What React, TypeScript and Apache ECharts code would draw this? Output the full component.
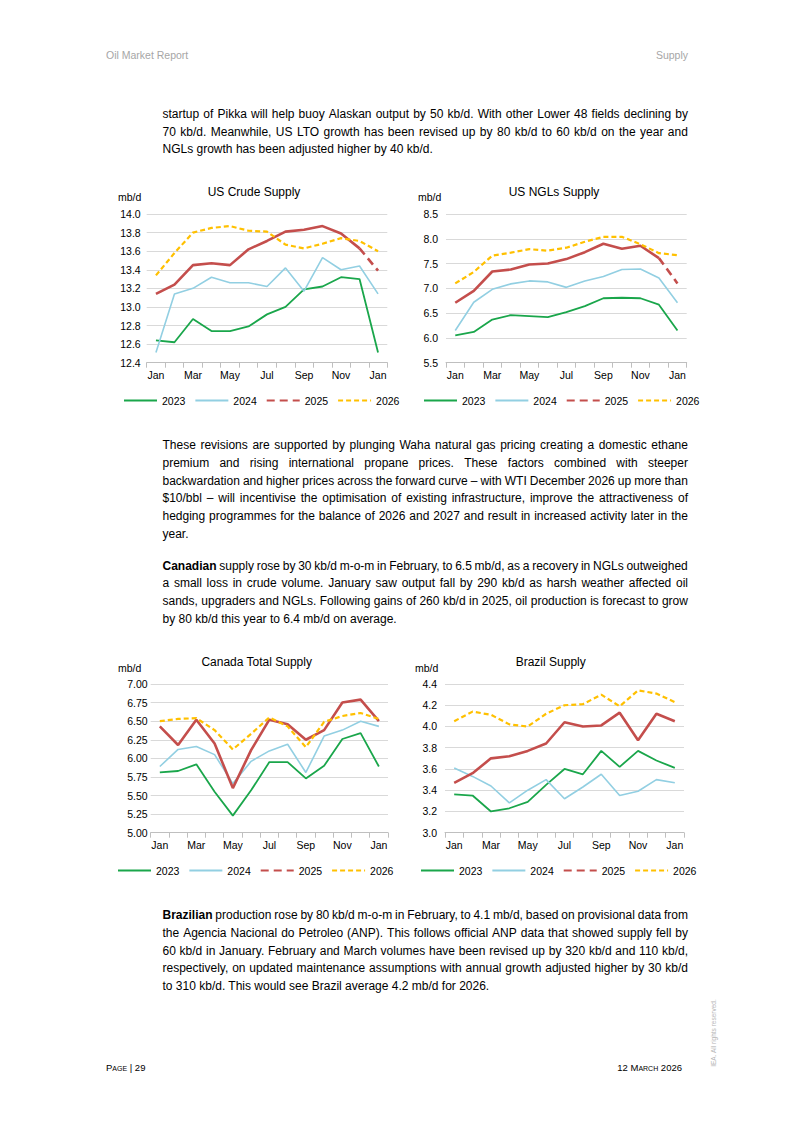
import React, { useEffect, useRef } from "react";
import * as echarts from "echarts";

// ---------------- DATA ----------------
const months = ["Jan", "Feb", "Mar", "Apr", "May", "Jun", "Jul", "Aug", "Sep", "Oct", "Nov", "Dec", "Jan"];
const seriesNames = ["2023", "2024", "2025", "2026"];

const crude2023 = [12.64, 12.62, 12.87, 12.74, 12.74, 12.79, 12.92, 13.0, 13.19, 13.22, 13.32, 13.3, 12.51];
const crude2024 = [12.51, 13.14, 13.2, 13.32, 13.26, 13.26, 13.22, 13.42, 13.17, 13.53, 13.4, 13.44, 13.14];
const crude2025 = [13.14, 13.24, 13.45, 13.47, 13.45, 13.62, 13.71, 13.81, 13.83, 13.87, 13.79, 13.63, 13.39];
const crude2026 = [13.34, 13.58, 13.8, 13.85, 13.87, 13.82, 13.81, 13.67, 13.63, 13.68, 13.74, 13.71, 13.6];

const ngl2023 = [6.05, 6.12, 6.37, 6.46, 6.44, 6.42, 6.52, 6.64, 6.8, 6.81, 6.8, 6.67, 6.15];
const ngl2024 = [6.15, 6.72, 6.98, 7.09, 7.15, 7.13, 7.02, 7.15, 7.24, 7.38, 7.39, 7.21, 6.71];
const ngl2025 = [6.71, 6.95, 7.34, 7.38, 7.48, 7.5, 7.59, 7.73, 7.9, 7.8, 7.86, 7.61, 7.1];
const ngl2026 = [7.1, 7.33, 7.66, 7.72, 7.79, 7.76, 7.82, 7.94, 8.04, 8.04, 7.89, 7.71, 7.67];

const canada2023 = [5.81, 5.83, 5.92, 5.55, 5.23, 5.57, 5.95, 5.95, 5.73, 5.9, 6.26, 6.34, 5.89];
const canada2024 = [5.89, 6.12, 6.16, 6.05, 5.66, 5.96, 6.1, 6.19, 5.81, 6.3, 6.38, 6.5, 6.43];
const canada2025 = [6.43, 6.18, 6.52, 6.2, 5.6, 6.11, 6.52, 6.46, 6.25, 6.38, 6.75, 6.79, 6.5];
const canada2026 = [6.5, 6.53, 6.54, 6.38, 6.12, 6.33, 6.55, 6.43, 6.15, 6.49, 6.57, 6.61, 6.53];

const brazil2023 = [3.36, 3.35, 3.2, 3.23, 3.29, 3.45, 3.6, 3.55, 3.77, 3.62, 3.77, 3.68, 3.61];
const brazil2024 = [3.61, 3.53, 3.44, 3.28, 3.4, 3.5, 3.32, 3.43, 3.55, 3.35, 3.39, 3.5, 3.47];
const brazil2025 = [3.47, 3.56, 3.7, 3.72, 3.77, 3.84, 4.04, 4.0, 4.01, 4.13, 3.87, 4.12, 4.05];
const brazil2026 = [4.05, 4.14, 4.11, 4.02, 4.0, 4.12, 4.2, 4.21, 4.3, 4.19, 4.34, 4.31, 4.23];

// index from which the 2025 line is drawn dashed (forecast); -1 = none
const crudeForecastFrom = 11;
const nglForecastFrom = 11;

const crudeTicks = { min: 12.4, max: 14.0, step: 0.2, decimals: 1 };
const nglTicks = { min: 5.5, max: 8.5, step: 0.5, decimals: 1 };
const canadaTicks = { min: 5.0, max: 7.0, step: 0.25, decimals: 2 };
const brazilTicks = { min: 3.0, max: 4.4, step: 0.2, decimals: 1 };

// ---------------- STYLE ----------------
const FONT = "'Liberation Sans', Arial, Helvetica, sans-serif";
const GREEN = "#1aa64b";
const BLUE = "#92cfe2";
const RED = "#c44e4c";
const YELLOW = "#ffc000";

type ChartCfg = {
  box: { x: number; y: number; w: number; h: number };
  plot: { x0: number; x1: number; y0: number; y1: number };
  title: string;
  titleX: number;
  titleY: number;
  unitX: number;
  unitY: number;
  legendX: number;
  legendY: number;
  yLabelMargin: number;
  ticks: { min: number; max: number; step: number; decimals: number };
  values: number[][];
  forecastFrom: number;
};

function buildOption(c: ChartCfg) {
  const { box, plot } = c;
  const [s23, s24, s25, s26] = c.values;
  const solid25 = s25.map((v, i) => (c.forecastFrom < 0 || i <= c.forecastFrom ? v : null));
  const dashed25 = s25.map((v, i) => (c.forecastFrom >= 0 && i >= c.forecastFrom ? v : null));
  const line = (name: string, data: (number | null)[], color: string, width: number, type: any) => ({
    name,
    type: "line",
    data,
    symbol: "none",
    showSymbol: false,
    connectNulls: false,
    lineStyle: { color, width, type },
    itemStyle: { color },
    emphasis: { disabled: true },
  });
  return {
    animation: false,
    textStyle: { fontFamily: FONT },
    grid: {
      left: plot.x0 - box.x,
      right: box.x + box.w - plot.x1,
      top: plot.y0 - box.y,
      bottom: box.y + box.h - plot.y1,
      containLabel: false,
    },
    graphic: [
      {
        type: "text",
        x: c.titleX - box.x,
        y: c.titleY - box.y,
        style: {
          text: c.title,
          fontSize: 12,
          fontFamily: FONT,
          fill: "#000",
          textAlign: "center",
          textVerticalAlign: "middle",
          align: "center",
          verticalAlign: "middle",
        },
      },
      {
        type: "text",
        x: c.unitX - box.x,
        y: c.unitY - box.y,
        style: {
          text: "mb/d",
          fontSize: 10.5,
          fontFamily: FONT,
          fill: "#000",
          textAlign: "left",
          textVerticalAlign: "middle",
          align: "left",
          verticalAlign: "middle",
        },
      },
    ],
    legend: {
      data: seriesNames,
      left: c.legendX - box.x,
      top: c.legendY - box.y - 5,
      padding: 0,
      width: 360,
      itemWidth: 33,
      itemHeight: 8,
      itemGap: 9,
      selectedMode: false,
      itemStyle: { opacity: 0 },
      textStyle: { fontSize: 10.5, color: "#000", fontFamily: FONT },
    },
    xAxis: {
      type: "category",
      data: months,
      boundaryGap: true,
      axisLine: { show: true, lineStyle: { color: "#bfbfbf", width: 1 } },
      axisTick: { show: true, interval: 0, length: 5, lineStyle: { color: "#bfbfbf" } },
      axisLabel: { interval: 1, margin: 7, fontSize: 10.5, color: "#000", fontFamily: FONT },
      splitLine: { show: false },
    },
    yAxis: {
      type: "value",
      min: c.ticks.min,
      max: c.ticks.max,
      interval: c.ticks.step,
      axisLine: { show: false },
      axisTick: { show: false },
      axisLabel: {
        margin: c.yLabelMargin,
        fontSize: 10.5,
        color: "#000",
        fontFamily: FONT,
        formatter: (v: number) => v.toFixed(c.ticks.decimals),
      },
      splitLine: { show: true, lineStyle: { color: "#d9d9d9", width: 1 } },
    },
    series: [
      line("2023", s23, GREEN, 1.8, "solid"),
      line("2024", s24, BLUE, 1.6, "solid"),
      line("2025 actual", solid25, RED, 2.6, "solid"),
      line("2025", dashed25, RED, 2.6, [8, 5]),
      line("2026", s26, YELLOW, 2.2, [5, 3]),
    ],
  };
}

function LineChart({ cfg }: { cfg: ChartCfg }) {
  const ref = useRef<HTMLDivElement>(null);
  useEffect(() => {
    if (!ref.current) return;
    const chart = echarts.init(ref.current, null, { renderer: "svg" });
    chart.setOption(buildOption(cfg) as any);
    return () => chart.dispose();
  }, []);
  const { box } = cfg;
  return <div ref={ref} style={{ position: "absolute", left: box.x, top: box.y, width: box.w, height: box.h }} />;
}

const charts: ChartCfg[] = [
  {
    box: { x: 100, y: 175, w: 320, h: 240 },
    plot: { x0: 146.7, x1: 387.3, y0: 214, y1: 362.7 },
    title: "US Crude Supply",
    titleX: 254,
    titleY: 191.5,
    unitX: 118,
    unitY: 197,
    legendX: 123,
    legendY: 400,
    yLabelMargin: 6,
    ticks: crudeTicks,
    values: [crude2023, crude2024, crude2025, crude2026],
    forecastFrom: crudeForecastFrom,
  },
  {
    box: { x: 400, y: 175, w: 320, h: 240 },
    plot: { x0: 446, x1: 686.7, y0: 214, y1: 362.7 },
    title: "US NGLs Supply",
    titleX: 554,
    titleY: 191.5,
    unitX: 418,
    unitY: 197,
    legendX: 423,
    legendY: 400,
    yLabelMargin: 8,
    ticks: nglTicks,
    values: [ngl2023, ngl2024, ngl2025, ngl2026],
    forecastFrom: nglForecastFrom,
  },
  {
    box: { x: 100, y: 645, w: 320, h: 240 },
    plot: { x0: 150.7, x1: 388, y0: 684, y1: 832.7 },
    title: "Canada Total Supply",
    titleX: 256.7,
    titleY: 661.5,
    unitX: 118,
    unitY: 668,
    legendX: 117,
    legendY: 870,
    yLabelMargin: 3,
    ticks: canadaTicks,
    values: [canada2023, canada2024, canada2025, canada2026],
    forecastFrom: -1,
  },
  {
    box: { x: 400, y: 645, w: 320, h: 240 },
    plot: { x0: 445, x1: 684, y0: 684, y1: 832.7 },
    title: "Brazil Supply",
    titleX: 550.7,
    titleY: 661.5,
    unitX: 415,
    unitY: 668,
    legendX: 420,
    legendY: 870,
    yLabelMargin: 8,
    ticks: brazilTicks,
    values: [brazil2023, brazil2024, brazil2025, brazil2026],
    forecastFrom: -1,
  },
];

// ---------------- TEXT ----------------
type Para = { firstY: number; lines: string[] };
const LINE_GAP = 17.75;
const paragraphs: Para[] = [
  {
    firstY: 113.8,
    lines: [
      "startup of Pikka will help buoy Alaskan output by 50 kb/d. With other Lower 48 fields declining by",
      "70 kb/d. Meanwhile, US LTO growth has been revised up by 80 kb/d to 60 kb/d on the year and",
      "NGLs growth has been adjusted higher by 40 kb/d.",
    ],
  },
  {
    firstY: 445,
    lines: [
      "These revisions are supported by plunging Waha natural gas pricing creating a domestic ethane",
      "premium and rising international propane prices. These factors combined with steeper",
      "backwardation and higher prices across the forward curve \u2013 with WTI December 2026 up more than",
      "$10/bbl \u2013 will incentivise the optimisation of existing infrastructure, improve the attractiveness of",
      "hedging programmes for the balance of 2026 and 2027 and result in increased activity later in the",
      "year.",
    ],
  },
  {
    firstY: 565.5,
    lines: [
      "**Canadian supply rose by 30 kb/d m-o-m in February, to 6.5 mb/d, as a recovery in NGLs outweighed",
      "a small loss in crude volume. January saw output fall by 290 kb/d as harsh weather affected oil",
      "sands, upgraders and NGLs. Following gains of 260 kb/d in 2025, oil production is forecast to grow",
      "by 80 kb/d this year to 6.4 mb/d on average.",
    ],
  },
  {
    firstY: 915,
    lines: [
      "**Brazilian production rose by 80 kb/d m-o-m in February, to 4.1 mb/d, based on provisional data from",
      "the Agencia Nacional do Petroleo (ANP). This follows official ANP data that showed supply fell by",
      "60 kb/d in January. February and March volumes have been revised up by 320 kb/d and 110 kb/d,",
      "respectively, on updated maintenance assumptions with annual growth adjusted higher by 30 kb/d",
      "to 310 kb/d. This would see Brazil average 4.2 mb/d for 2026.",
    ],
  },
];

const TEXT_LEFT = 162.5;
const TEXT_RIGHT = 688;

function TextLine({ text, y, last }: { text: string; y: number; last: boolean }) {
  const words = text.split(" ");
  const base: React.CSSProperties = {
    position: "absolute",
    left: TEXT_LEFT,
    top: y - 9,
    width: TEXT_RIGHT - TEXT_LEFT,
    height: 18,
    lineHeight: "18px",
    fontSize: 12,
    fontFamily: FONT,
    color: "#000",
    whiteSpace: "pre",
  };
  const render = (w: string, i: number, trailing: boolean) => {
    const bold = w.startsWith("**");
    const t = bold ? w.slice(2) : w;
    return (
      <span key={i} style={{ fontWeight: bold ? "bold" : "normal" }}>
        {t + (trailing ? " " : "")}
      </span>
    );
  };
  if (last) {
    return <div style={base}>{words.map((w, i) => render(w, i, i < words.length - 1))}</div>;
  }
  return (
    <div style={{ ...base, display: "flex", justifyContent: "space-between" }}>
      {words.map((w, i) => render(w, i, false))}
    </div>
  );
}

export default function App() {
  const small: React.CSSProperties = {
    position: "absolute",
    fontFamily: FONT,
    fontSize: 10.5,
    color: "#a6a6a6",
    whiteSpace: "nowrap",
    lineHeight: "12px",
  };
  return (
    <div
      style={{
        position: "absolute",
        left: 0,
        top: 0,
        width: 793,
        height: 1121,
        background: "#fff",
        overflow: "hidden",
        fontFamily: FONT,
      }}
    >
      <div style={{ ...small, left: 106, top: 54.5 - 6 }}>Oil Market Report</div>
      <div style={{ ...small, right: 793 - 688, top: 54.5 - 6 }}>Supply</div>

      {paragraphs.map((p, pi) =>
        p.lines.map((l, li) => (
          <TextLine key={pi + "-" + li} text={l} y={p.firstY + li * LINE_GAP} last={li === p.lines.length - 1} />
        ))
      )}

      {charts.map((c, i) => (
        <LineChart key={i} cfg={c} />
      ))}

      <div
        style={{
          position: "absolute",
          left: 106,
          top: 1068 - 6,
          fontSize: 9.5,
          lineHeight: "12px",
          fontVariant: "small-caps",
          color: "#000",
          fontFamily: FONT,
          whiteSpace: "nowrap",
        }}
      >
        Page | 29
      </div>
      <div
        style={{
          position: "absolute",
          right: 793 - 682,
          top: 1068 - 6,
          fontSize: 9.5,
          lineHeight: "12px",
          fontVariant: "small-caps",
          color: "#000",
          fontFamily: FONT,
          whiteSpace: "nowrap",
        }}
      >
        12 March 2026
      </div>
      <div
        style={{
          position: "absolute",
          left: 714,
          top: 1033,
          fontSize: 6.5,
          lineHeight: "8px",
          color: "#b5b5b5",
          fontFamily: FONT,
          whiteSpace: "nowrap",
          transform: "translate(-50%, -50%) rotate(-90deg)",
        }}
      >
        IEA. All rights reserved.
      </div>
    </div>
  );
}
